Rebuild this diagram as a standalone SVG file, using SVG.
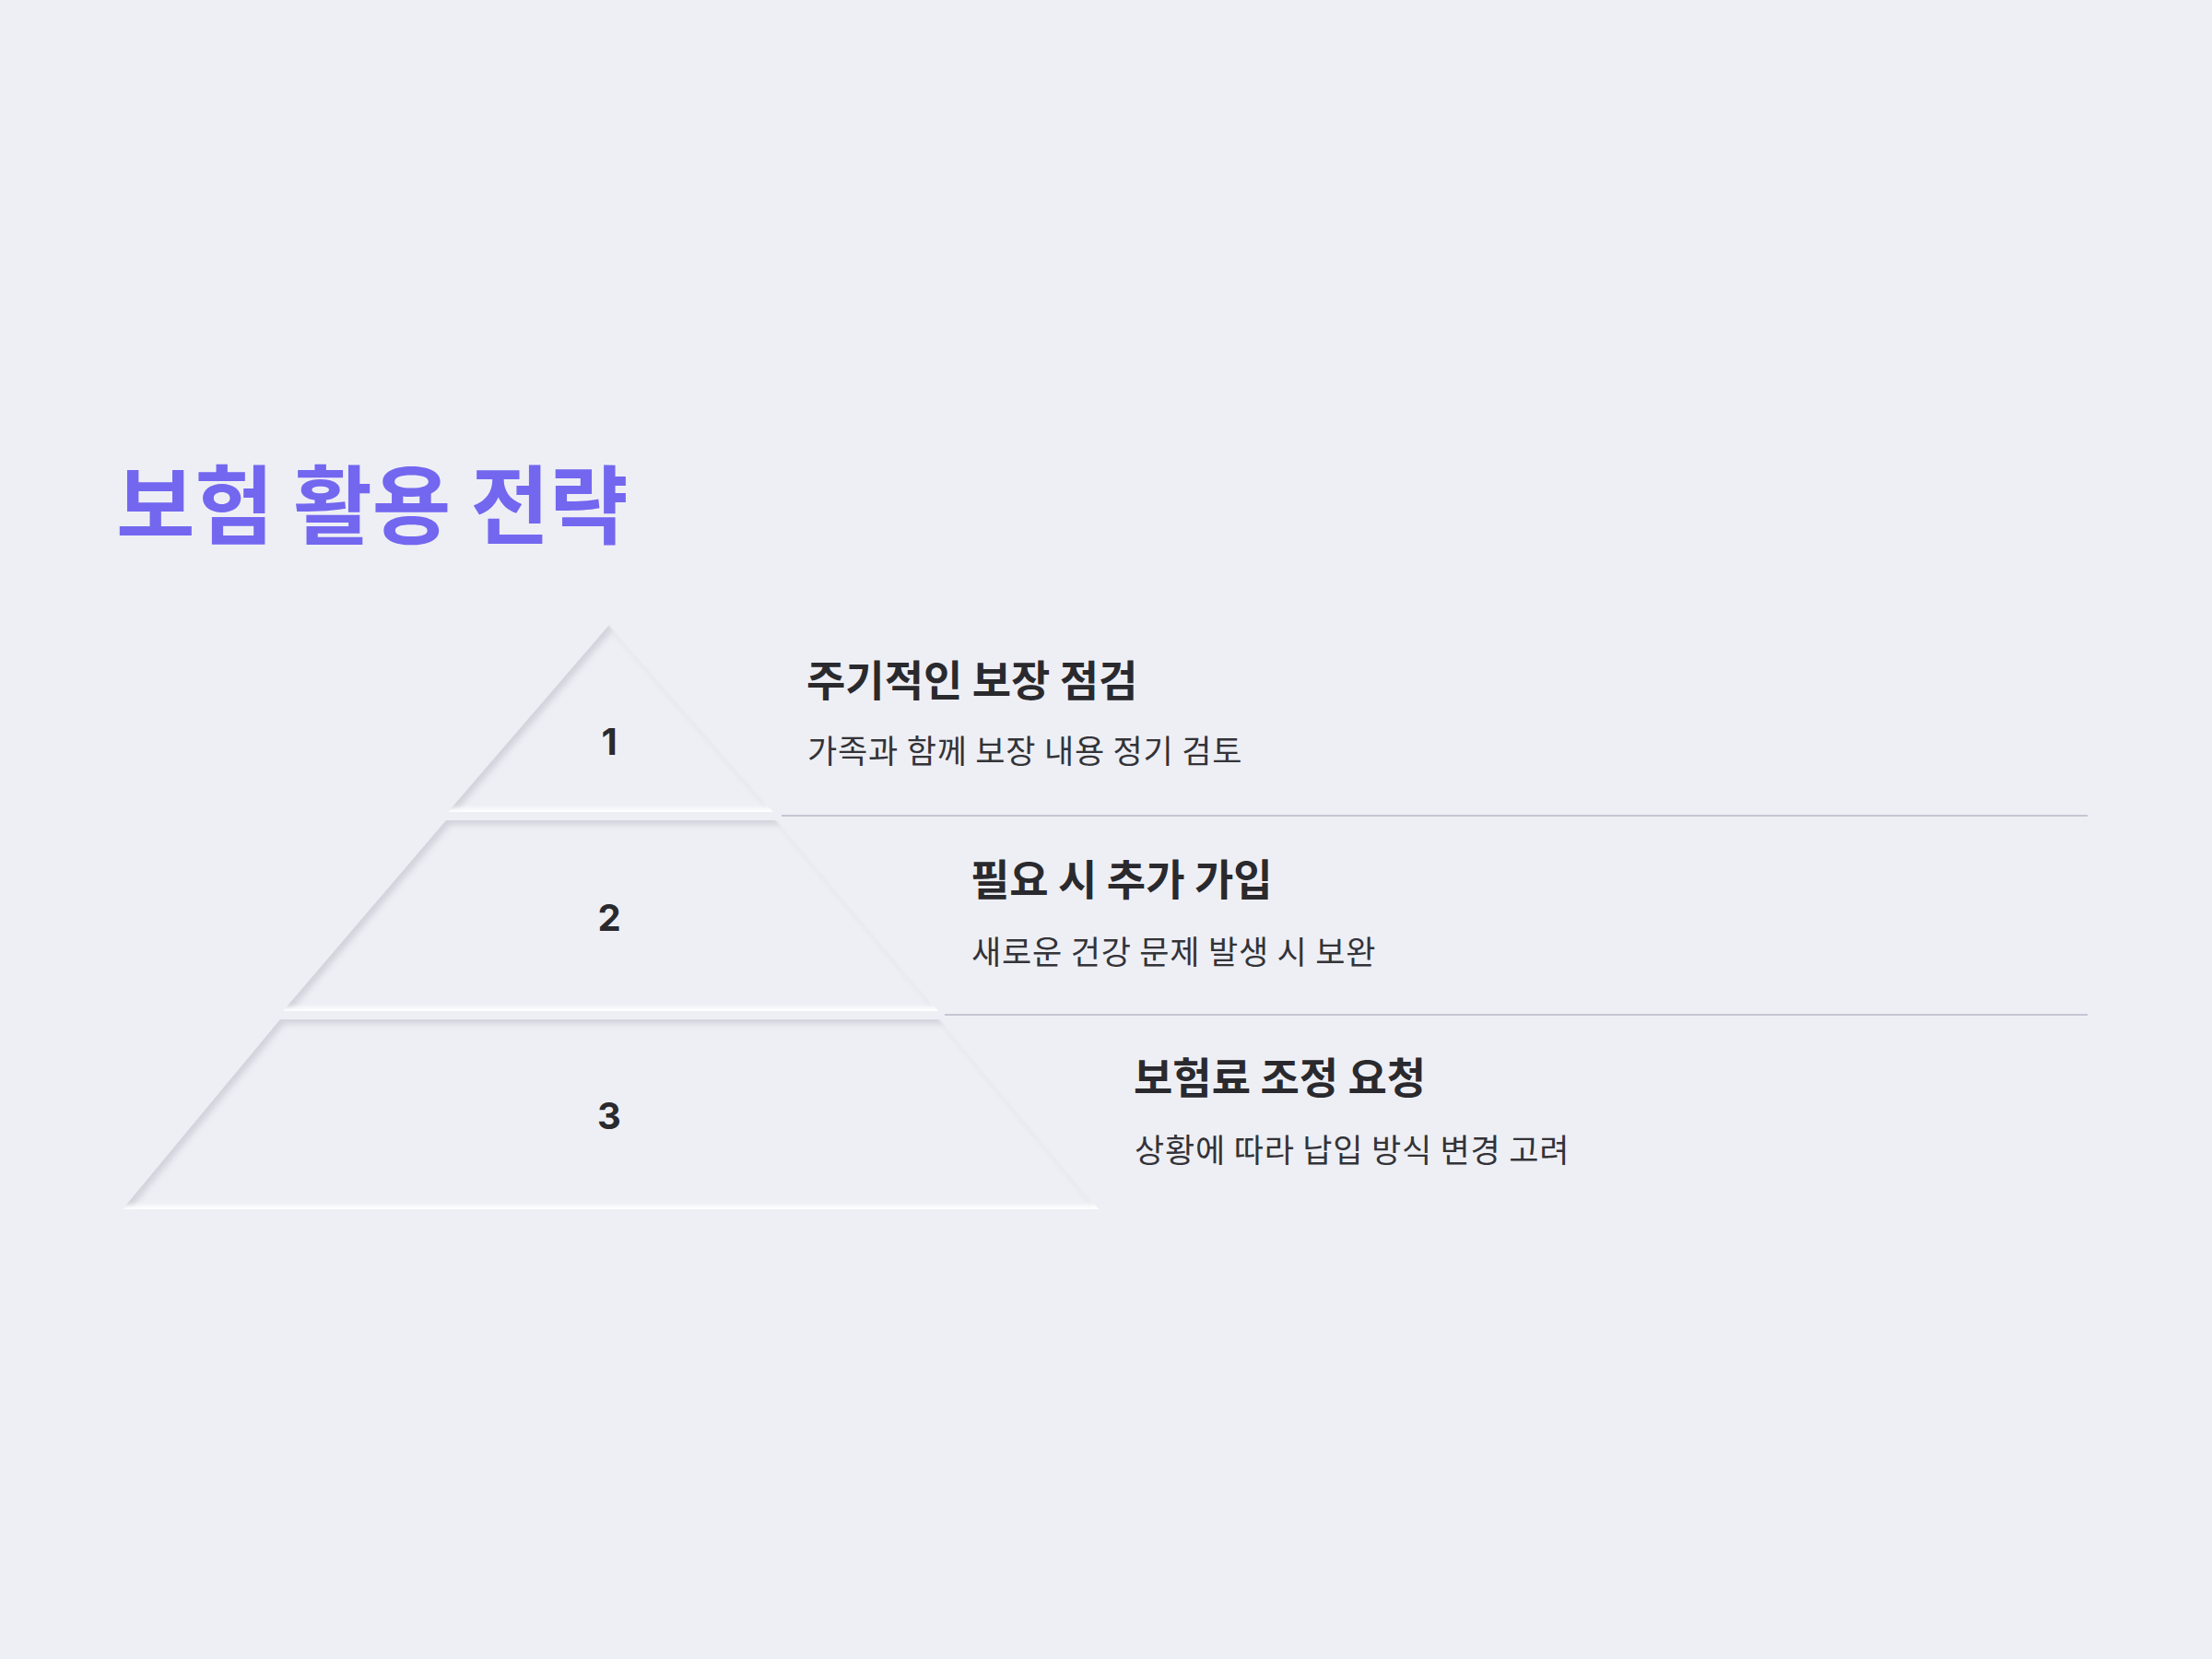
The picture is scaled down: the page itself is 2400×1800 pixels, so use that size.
<svg xmlns="http://www.w3.org/2000/svg" width="2400" height="1800" viewBox="0 0 2400 1800">
  <style>
    .title { font-family: "Noto Sans CJK KR", "Noto Sans", sans-serif; font-weight: 700; font-size: 93px; fill: #7367f0; }
    .num { font-family: Inter, "Liberation Sans", sans-serif; font-weight: 700; font-size: 40px; fill: #2a2a2e; text-anchor: middle; }
    .head { font-family: "Noto Sans CJK KR", "Noto Sans", sans-serif; font-weight: 700; font-size: 46px; fill: #2a2a2e; }
    .sub { font-family: "Noto Sans CJK KR", "Noto Sans", sans-serif; font-weight: 400; font-size: 35px; letter-spacing: 0.8px; fill: #333338; }
    .tier { fill: #eeeff5; filter: url(#neu); }
    .sep { stroke: #c5c5d3; stroke-width: 2; fill: none; }
  </style>
  <defs>
    <filter id="neu" x="-5%" y="-5%" width="110%" height="110%" color-interpolation-filters="sRGB">
      <feComponentTransfer in="SourceAlpha" result="inv">
        <feFuncA type="table" tableValues="1 0"/>
      </feComponentTransfer>
      <feOffset in="inv" dx="4" dy="5" result="invD"/>
      <feGaussianBlur in="invD" stdDeviation="3" result="invDB"/>
      <feFlood flood-color="#d1d3db" result="dark"/>
      <feComposite in="dark" in2="invDB" operator="in" result="darkSh"/>
      <feComposite in="darkSh" in2="SourceAlpha" operator="in" result="darkIn"/>
      <feOffset in="inv" dx="-3" dy="-4" result="invL"/>
      <feGaussianBlur in="invL" stdDeviation="2.5" result="invLB"/>
      <feFlood flood-color="#ffffff" result="light"/>
      <feComposite in="light" in2="invLB" operator="in" result="lightSh"/>
      <feComposite in="lightSh" in2="SourceAlpha" operator="in" result="lightIn"/>
      <feMerge>
        <feMergeNode in="SourceGraphic"/>
        <feMergeNode in="darkIn"/>
        <feMergeNode in="lightIn"/>
      </feMerge>
    </filter>
  </defs>
  <rect width="2400" height="1800" fill="#eeeff5"/>

  <g id="title">
    <text class="title" x="126" y="583">보험 활용 전략</text>
  </g>

  <g id="connectors">
    <line class="sep" x1="848" y1="885" x2="2265" y2="885"/>
    <line class="sep" x1="1025" y1="1101" x2="2265" y2="1101"/>
  </g>

  <g id="tier1">
    <polygon class="tier" points="661,678 839,881 486,881"/>
    <text class="num" x="661" y="819">1</text>
  </g>
  <g id="tier2">
    <polygon class="tier" points="484,890 843,890 1018,1097 307,1097"/>
    <text class="num" x="661" y="1010">2</text>
  </g>
  <g id="tier3">
    <polygon class="tier" points="304,1106 1020,1106 1192,1312 133,1312"/>
    <text class="num" x="661" y="1225">3</text>
  </g>

  <g id="item1">
    <text class="head" x="875" y="755">주기적인 보장 점검</text>
    <text class="sub" x="876" y="828">가족과 함께 보장 내용 정기 검토</text>
  </g>
  <g id="item2">
    <text class="head" x="1053" y="971">필요 시 추가 가입</text>
    <text class="sub" x="1054" y="1046">새로운 건강 문제 발생 시 보완</text>
  </g>
  <g id="item3">
    <text class="head" x="1230" y="1186">보험료 조정 요청</text>
    <text class="sub" x="1231" y="1261">상황에 따라 납입 방식 변경 고려</text>
  </g>
</svg>
